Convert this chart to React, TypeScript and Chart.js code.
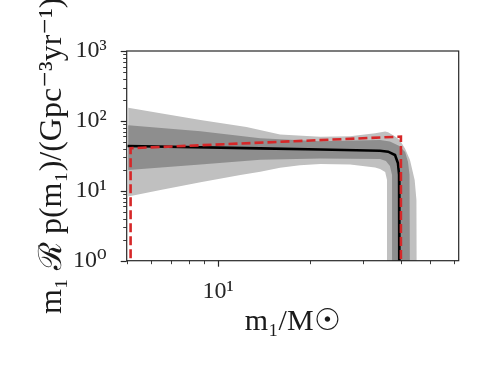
import React, { useEffect, useRef } from 'react';
import { Chart, registerables } from 'chart.js';

Chart.register(...registerables);

// ---------- data (primary mass in M_sun, rate density in Gpc^-3 yr^-1) ----------
// outer (90%) credible band, upper edge, left to right, down its right side
const outerUpperMass = [5.06, 6.46, 8.75, 12.4, 16.0, 21.7, 27.2, 32.9, 35.5, 36.3, 38.3, 39.7, 41.3, 42.85, 44.4, 45.0, 45.1];
const outerUpperRate = [154, 129, 103, 82, 64, 59.4, 60.5, 66.5, 70.5, 69, 60, 53, 40, 27.6, 14.3, 7.4, 0.3];
// outer band, lower edge
const outerLowerMass = [5.06, 6.46, 8.75, 11.84, 13.77, 16.0, 18.6, 21.7, 27.2, 32.9, 34.15, 35.5, 36.0, 36.05];
const outerLowerRate = [8.3, 10.3, 13.3, 16.8, 18.8, 21.3, 23.2, 24.2, 23.8, 21.5, 20.5, 18.6, 14.3, 0.3];
// inner (50%) credible band
const innerUpperMass = [5.06, 8.75, 13.77, 21.7, 34.15, 36.8, 39.4, 41.3, 42.2, 42.7, 42.85];
const innerUpperRate = [87, 71, 56.4, 51, 53.5, 50.7, 44, 36, 26, 17, 0.3];
const innerLowerMass = [5.06, 8.75, 13.77, 21.7, 34.15, 35.7, 36.8, 37.4, 37.5];
const innerLowerRate = [19.8, 23.8, 27.8, 29, 28.5, 26.7, 22.6, 16.8, 0.3];
// median
const medianMass = [5.03, 13.77, 21.7, 34.15, 36.3, 38.25, 39.1, 39.45, 39.52, 39.52];
const medianRate = [43.7, 40.5, 39.0, 37.5, 36.3, 32.5, 25, 17, 10, 0.3];
// injected (true) distribution
const trueMass = [5.15, 5.15, 40.0, 40.0];
const trueRate = [0.3, 40.6, 59.6, 0.3];

// axis ticks
const xMajorTicks = [10];
const xMinorTicks = [5, 6, 7, 8, 9, 20, 30, 40, 50, 60];
const yDecades = [1, 10, 100, 1000];
const xTickLabels: Record<number, string> = { 10: '10\u00B9' };
const yTickLabels: Record<number, string> = { 1: '10\u2070', 10: '10\u00B9', 100: '10\u00B2', 1000: '10\u00B3' };

const xTitle = 'm\u2081/M\u2609';
const yTitle = 'm\u2081 \u211B p(m\u2081)/(Gpc\u207B\u00B3yr\u207B\u00B9)';

const SERIF = '"Liberation Serif", "DejaVu Serif", serif';

function pts(ms: number[], vs: number[]) {
  return ms.map((m, i) => ({ x: m, y: vs[i] }));
}
function band(um: number[], uv: number[], lm: number[], lv: number[]) {
  const p = pts(um, uv);
  for (let i = lm.length - 1; i >= 0; i--) p.push({ x: lm[i], y: lv[i] });
  p.push({ x: um[0], y: uv[0] });
  return p;
}

const framePlugin = {
  id: 'frame',
  afterDraw(chart: any) {
    const { ctx, chartArea: ca, scales } = chart;
    const xs = scales.x;
    const ys = scales.y;
    ctx.save();
    ctx.strokeStyle = '#262626';
    // y ticks
    for (const d of yDecades) {
      for (let k = 1; k <= 9; k++) {
        const v = k * d;
        if (v > 1000.0001) break;
        const py = Math.round(ys.getPixelForValue(v)) + 0.5;
        const len = k === 1 ? 6 : 3.5;
        ctx.lineWidth = k === 1 ? 1.2 : 0.9;
        ctx.beginPath();
        ctx.moveTo(ca.left, py);
        ctx.lineTo(ca.left - len, py);
        ctx.stroke();
      }
    }
    // x ticks
    const drawX = (v: number, len: number, w: number) => {
      const px = Math.round(xs.getPixelForValue(v)) + 0.5;
      ctx.lineWidth = w;
      ctx.beginPath();
      ctx.moveTo(px, ca.bottom);
      ctx.lineTo(px, ca.bottom + len);
      ctx.stroke();
    };
    xMajorTicks.forEach((v) => drawX(v, 6, 1.2));
    xMinorTicks.forEach((v) => drawX(v, 3.5, 0.9));
    // spines
    ctx.lineWidth = 1.2;
    ctx.strokeRect(ca.left, ca.top, ca.right - ca.left, ca.bottom - ca.top);
    // titles
    ctx.fillStyle = '#1a1a1a';
    ctx.textAlign = 'center';
    ctx.textBaseline = 'middle';
    ctx.font = `30px ${SERIF}`;
    ctx.fillText(xTitle, (ca.left + ca.right) / 2, 322);
    ctx.font = `32px ${SERIF}`;
    ctx.translate(53, (ca.top + ca.bottom) / 2);
    ctx.rotate(-Math.PI / 2);
    ctx.fillText(yTitle, 0, 0);
    ctx.restore();
  },
};

export default function App() {
  const ref = useRef<HTMLCanvasElement | null>(null);
  useEffect(() => {
    document.body.style.margin = '0';
    const canvas = ref.current;
    if (!canvas) return;
    const chart = new Chart(canvas, {
      type: 'line',
      data: {
        datasets: [
          {
            label: 'true',
            data: pts(trueMass, trueRate),
            borderColor: '#d62728',
            borderWidth: 2.6,
            borderDash: [9, 4],
            pointRadius: 0,
            fill: false,
            tension: 0,
            order: 0,
          },
          {
            label: 'median',
            data: pts(medianMass, medianRate),
            borderColor: '#000000',
            borderWidth: 2.6,
            pointRadius: 0,
            fill: false,
            tension: 0,
            order: 1,
          },
          {
            label: '50%',
            data: band(innerUpperMass, innerUpperRate, innerLowerMass, innerLowerRate),
            borderColor: 'rgba(0,0,0,0)',
            borderWidth: 0,
            backgroundColor: '#8e8e8e',
            pointRadius: 0,
            fill: 'shape',
            tension: 0,
            order: 2,
          },
          {
            label: '90%',
            data: band(outerUpperMass, outerUpperRate, outerLowerMass, outerLowerRate),
            borderColor: 'rgba(0,0,0,0)',
            borderWidth: 0,
            backgroundColor: '#c0c0c0',
            pointRadius: 0,
            fill: 'shape',
            tension: 0,
            order: 3,
          },
        ],
      },
      options: {
        responsive: false,
        animation: false,
        events: [],
        layout: { padding: { left: 0, right: 41.3, top: 51, bottom: 0 } },
        plugins: { legend: { display: false }, tooltip: { enabled: false } },
        scales: {
          x: {
            type: 'logarithmic',
            position: 'bottom',
            min: 5,
            max: 62,
            grid: { display: false, drawTicks: false },
            border: { display: false },
            ticks: {
              autoSkip: false,
              maxRotation: 0,
              padding: 17,
              color: '#262626',
              font: { family: SERIF, size: 24 },
              callback: (v: any) => xTickLabels[Math.round(Number(v) * 1000) / 1000] ?? '',
            },
            afterFit: (s: any) => {
              s.height = 114.3;
            },
          },
          y: {
            type: 'logarithmic',
            position: 'left',
            min: 1,
            max: 1000,
            grid: { display: false, drawTicks: false },
            border: { display: false },
            ticks: {
              autoSkip: false,
              padding: 20,
              color: '#262626',
              font: { family: SERIF, size: 24 },
              callback: (v: any) => yTickLabels[Math.round(Number(v) * 1000) / 1000] ?? '',
            },
            afterFit: (s: any) => {
              s.width = 126.7;
            },
          },
        },
      } as any,
      plugins: [framePlugin],
    });
    return () => chart.destroy();
  }, []);
  return <canvas ref={ref} width={500} height={375} style={{ display: 'block' }} />;
}
